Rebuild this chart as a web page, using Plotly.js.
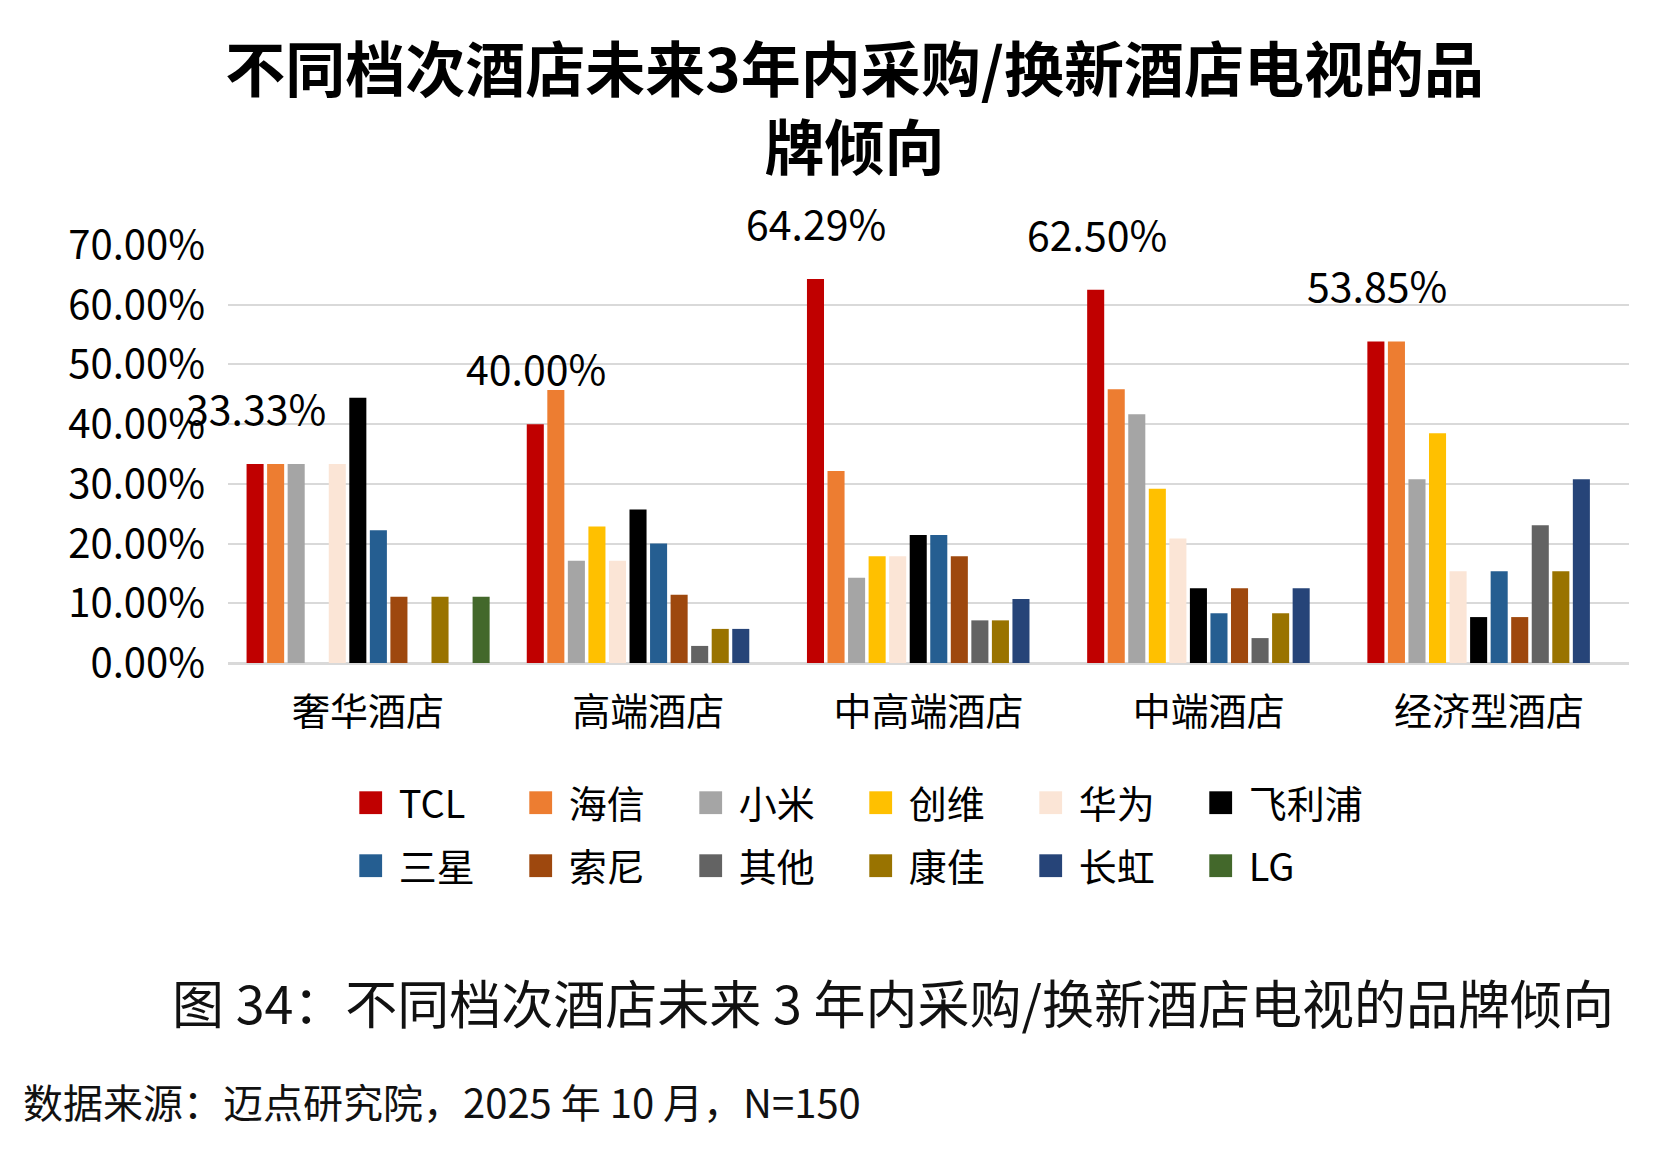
<!DOCTYPE html>
<html>
<head>
<meta charset="utf-8">
<script src="https://cdn.plot.ly/plotly-3.0.1.min.js"></script>
<style>
  html, body { margin: 0; padding: 0; background: #fff; }
  #chart { width: 1653px; height: 1158px; }
</style>
</head>
<body>
<div id="chart"></div>
<script>
'use strict';

// 酒店档次
var hotelTypes = ['奢华酒店', '高端酒店', '中高端酒店', '中端酒店', '经济型酒店'];

// 品牌（按图例顺序）
var brands = ['TCL', '海信', '小米', '创维', '华为', '飞利浦', '三星', '索尼', '其他', '康佳', '长虹', 'LG'];

var brandColors = ['#C00000', '#ED7D31', '#A5A5A5', '#FFC000', '#FBE5D6', '#000000',
                   '#255E91', '#9E480E', '#636363', '#997300', '#264478', '#43682B'];

// 各品牌在五类酒店中的占比（%），顺序同 hotelTypes
var tcl      = [33.33, 40.00, 64.29, 62.50, 53.85];
var hisense  = [33.33, 45.71, 32.14, 45.83, 53.85];
var xiaomi   = [33.33, 17.14, 14.29, 41.67, 30.77];
var skyworth = [0,     22.86, 17.86, 29.17, 38.46];
var huawei   = [33.33, 17.14, 17.86, 20.83, 15.38];
var philips  = [44.44, 25.71, 21.43, 12.50, 7.69];
var samsung  = [22.22, 20.00, 21.43, 8.33, 15.38];
var sony     = [11.11, 11.43, 17.86, 12.50, 7.69];
var others   = [0,     2.86,  7.14,  4.17,  23.08];
var konka    = [11.11, 5.71,  7.14,  8.33,  15.38];
var changhong= [0,     5.71,  10.71, 12.50, 30.77];
var lg       = [11.11, 0,     0,     0,     0];

var seriesValues = [tcl, hisense, xiaomi, skyworth, huawei, philips,
                    samsung, sony, others, konka, changhong, lg];

var yTicks = [0, 10, 20, 30, 40, 50, 60, 70];
var yTickText = yTicks.map(function(v) { return v.toFixed(2) + '%'; });

var FONT = '"Noto Sans CJK SC", "Noto Sans", sans-serif';

var data = [];
for (var i = 0; i < brands.length; i++) {
	data.push({
		type: 'bar',
		name: brands[i],
		x: hotelTypes,
		y: seriesValues[i],
		marker: {color: brandColors[i], line: {width: 0}},
		legend: i < 6 ? 'legend' : 'legend2',
		hoverinfo: 'x+y+name'
	});
}

// TCL 数据标签
var annotations = [];
for (var j = 0; j < hotelTypes.length; j++) {
	annotations.push({
		x: j - 0.40,
		y: tcl[j],
		xref: 'x',
		yref: 'y',
		text: tcl[j].toFixed(2) + '%',
		showarrow: false,
		yanchor: 'middle',
		yshift: 57,
		font: {family: FONT, size: 41, color: '#000'}
	});
}

// 图注与数据来源（绘图区下方）
annotations.push({
	text: '图 34：不同档次酒店未来 3 年内采购/换新酒店电视的品牌倾向',
	xref: 'paper', yref: 'paper',
	x: 0.9907, xanchor: 'right', y: -0.809, yanchor: 'middle',
	showarrow: false,
	font: {family: FONT, size: 52, color: '#111'}
});
annotations.push({
	text: '数据来源：迈点研究院，2025 年 10 月，N=150',
	xref: 'paper', yref: 'paper',
	x: -0.1478, xanchor: 'left', y: -1.047, yanchor: 'middle',
	showarrow: false,
	font: {family: FONT, size: 40, color: '#111'}
});

var legendCommon = {
	orientation: 'h',
	xref: 'container',
	yref: 'container',
	xanchor: 'left',
	yanchor: 'middle',
	entrywidth: 125,
	entrywidthmode: 'pixels',
	traceorder: 'normal',
	font: {family: FONT, size: 38, color: '#000'},
	bgcolor: 'rgba(0,0,0,0)'
};

var layout = {
	width: 1653,
	height: 1158,
	paper_bgcolor: '#fff',
	plot_bgcolor: '#fff',
	margin: {l: 228, r: 24, t: 245, b: 495},
	title: {
		text: '<b>不同档次酒店未来3年内采购/换新酒店电视的品<br>牌倾向</b>',
		x: 0.517,
		xref: 'container',
		y: 1 - 92 / 1158,
		yanchor: 'middle',
		font: {family: FONT, size: 60, color: '#000'}
	},
	barmode: 'group',
	bargap: 0.12,
	bargroupgap: 0.17,
	showlegend: true,
	legend: Object.assign({}, legendCommon, {x: 0.217, y: 1 - 803 / 1158}),
	legend2: Object.assign({}, legendCommon, {x: 0.217, y: 1 - 866 / 1158}),
	xaxis: {
		type: 'category',
		range: [-0.5, 4.5],
		showgrid: false,
		showline: false,
		ticks: '',
		tickfont: {family: FONT, size: 38, color: '#000'},
		ticklabelstandoff: 23
	},
	yaxis: {
		range: [0, 70],
		tickvals: yTicks,
		ticktext: yTickText,
		showgrid: true,
		gridcolor: '#D9D9D9',
		gridwidth: 2,
		zeroline: true,
		zerolinecolor: '#D9D9D9',
		zerolinewidth: 3,
		showline: false,
		ticks: '',
		tickfont: {family: FONT, size: 40, color: '#000'},
		ticklabelstandoff: 22
	},
	annotations: annotations
};

Plotly.newPlot('chart', data, layout, {displayModeBar: false, responsive: false}).then(function(gd) {
	// 放大图例色块，并取消图例裁剪以免首项色块被截
	gd.querySelectorAll('.scrollbox').forEach(function(s) { s.removeAttribute('clip-path'); });
	gd.querySelectorAll('.legendpoints path').forEach(function(p) {
		p.setAttribute('transform', 'translate(12,0) scale(1.9)');
	});
});
</script>
</body>
</html>
